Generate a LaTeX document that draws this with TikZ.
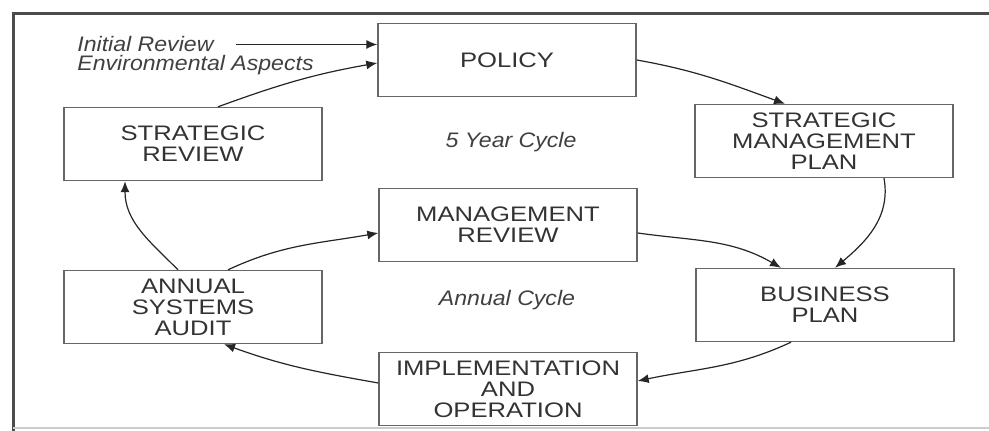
\documentclass[tikz,border=0pt]{standalone}
\usepackage{fontspec}
\setmainfont{Liberation Sans}
\newfontfamily\boxfont[FakeStretch=1.22]{Liberation Sans}
\newfontfamily\notefont[FakeStretch=1.1]{Liberation Sans}
\usetikzlibrary{arrows.meta}

\begin{document}
\begin{tikzpicture}[x=0.5pt,y=-0.5pt,
  box/.style={draw=black!60, line width=0.7pt, minimum width=129pt, minimum height=36.5pt,
    inner sep=0pt, align=center, text=black!80,
    font=\boxfont\fontsize{10.5}{10.5}\selectfont},
  note/.style={inner sep=0pt, text=black!75, font=\notefont\itshape\fontsize{10.5}{11}\selectfont},
  link/.style={draw=black!85, line width=0.6pt, -{Latex[length=5.5pt,width=4.5pt]}}]
\useasboundingbox (0,0) rectangle (989,431);
% frame round the chart
\draw[black!70, line width=1.5pt] (995,14) -- (13,14) -- (13,435);
\draw[black!20, line width=0.6pt] (13,428) -- (995,428);

% the seven stages
\node[box] (policy)   at (507,60)  {POLICY};
\node[box] (stratrev) at (193,144) {STRATEGIC\\REVIEW};
\node[box] (smp)      at (824,141) {STRATEGIC\\MANAGEMENT\\PLAN};
\node[box] (mgmtrev)  at (508,225) {MANAGEMENT\\REVIEW};
\node[box] (busplan)  at (825,305) {BUSINESS\\PLAN};
\node[box] (impl)     at (508,389) {IMPLEMENTATION\\AND\\OPERATION};
\node[box] (audit)    at (193,307) {ANNUAL\\SYSTEMS\\AUDIT};

% inputs and cycle names
\node[note, anchor=base west] (initrev) at (77,52) {Initial Review};
\node[note, anchor=base west] (envasp)  at (77,71) {Environmental Aspects};
\node[note] (fiveyr) at (511,142) {5 Year Cycle};
\node[note] (annual) at (507,300) {Annual Cycle};

% 5 year cycle
\draw[link] ([xshift=11pt]initrev.east) -- (initrev.east -| policy.west);
\draw[link] (policy.east) to[out=-10,in=160] ([xshift=-19.5pt]smp.north);
\draw[link] ([xshift=30pt]smp.south) to[out=-80,in=40] ([xshift=5pt]busplan.north);
\draw[link] ([xshift=-7.5pt]audit.north) to[out=135,in=-90] ([xshift=-34pt]stratrev.south);
\draw[link] ([xshift=12.5pt]stratrev.north) to[out=20,in=190] ([yshift=-1.5pt]policy.west);

% annual cycle
\draw[link] ([yshift=-4pt]mgmtrev.east) to[out=-8,in=150] ([xshift=-22pt]busplan.north);
\draw[link] ([xshift=-17pt]busplan.south) to[out=-155,in=12] ([yshift=4pt]impl.east);
\draw[link] ([yshift=3pt]impl.west) to[out=170,in=-20] ([xshift=15.5pt]audit.south);
\draw[link] ([xshift=17.5pt]audit.north) to[out=25,in=190] ([yshift=-4pt]mgmtrev.west);
\end{tikzpicture}
\end{document}
